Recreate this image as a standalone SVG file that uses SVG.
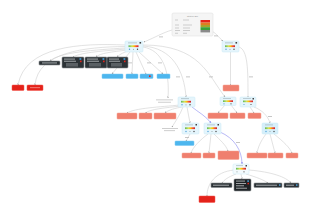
<svg xmlns="http://www.w3.org/2000/svg" width="320" height="208" viewBox="0 0 320 208">
<defs>
<linearGradient id="bar" x1="0" x2="1" y1="0" y2="0">
<stop offset="0" stop-color="#5cb85c"/><stop offset="0.35" stop-color="#d4e157"/><stop offset="0.55" stop-color="#ffc107"/><stop offset="0.8" stop-color="#f44336"/><stop offset="1" stop-color="#c62828"/>
</linearGradient>
<marker id="ah" viewBox="0 0 6 6" refX="5" refY="3" markerWidth="3" markerHeight="3" orient="auto"><path d="M0,0 L6,3 L0,6 z" fill="#9a9a9a"/></marker>
<marker id="ahb" viewBox="0 0 6 6" refX="5" refY="3" markerWidth="3" markerHeight="3" orient="auto"><path d="M0,0 L6,3 L0,6 z" fill="#8c8cf0"/></marker>
</defs>
<style>
.e{fill:none;stroke:#cfcfcf;stroke-width:0.6;marker-end:url(#ah)}
.eb{fill:none;stroke:#9a9af2;stroke-width:0.7;marker-end:url(#ahb)}
.lb{fill:#b8b8b8}
.n{fill:#e5f5fc;stroke:#cbe9f6;stroke-width:0.5}
.t{fill:#a9bcc4}
.ic{fill:#4a9fd8}
.ig{fill:#9aa}
.id{fill:#444}
.dk{fill:#2c3236;stroke:#8a8f92;stroke-width:0.6}
.dt{fill:#d8dcde}
.bp{fill:#4db6ee;stroke:#79c9f3;stroke-width:0.5}
.rd{fill:#e4221a;stroke:#f2564c;stroke-width:0.5}
.sa{fill:#ef7f6e;stroke:#f5a393;stroke-width:0.5}
.nt{fill:#c2c2c2}
.lg{fill:#f5f5f5;stroke:#dddddd;stroke-width:0.5}
.lt{font-family:'Liberation Sans',Arial,sans-serif;font-size:2.4px;fill:#9a9a9a}
</style>
<rect width="320" height="208" fill="#ffffff"/>

<g id="connectors">
<path class="e" d="M172,30 C162,33 156,37 144,42"/>
<path class="e" d="M212,31 C217,34 219,38 223,41"/>
<path class="e" d="M125,45 C80,43 25,46 18,85"/>
<path class="e" d="M125,46.5 C85,47 38,52 35,85"/>
<path class="e" d="M125,48 C95,50 60,52 50,61"/>
<path class="e" d="M126,49 C105,51 82,52 73,57"/>
<path class="e" d="M127,50 C112,52 100,53 96,57"/>
<path class="e" d="M128,51 C122,53 119,55 117,57"/>
<path class="e" d="M130,52 L112,74"/>
<path class="e" d="M133,52 L132,74"/>
<path class="e" d="M136,52 L146,74"/>
<path class="e" d="M139,52 L163,74"/>
<path class="e" d="M143,47 C162,50 170,70 168,98"/>
<path class="e" d="M143,46 C172,48 184,70 186,97"/>
<path class="e" d="M143,45 C200,45 208,75 225,97"/>
<path class="e" d="M230.5,52 L230.5,85"/>
<path class="e" d="M239,47 C248,50 248,70 248,97"/>
<path class="e" d="M180,105 C160,107 135,108 127,113"/>
<path class="e" d="M181,106 C165,108 150,109 145.5,113"/>
<path class="e" d="M182,107 C176,108 168,110 165,113"/>
<path class="e" d="M183,107 C180,115 175,122 172,127"/>
<path class="e" d="M187,107 L190,123"/>
<path class="eb" d="M192,107 C198,112 206,116 211,123"/>
<path class="e" d="M190,134 L186,141"/>
<path class="e" d="M208,134 C200,140 193,147 191,153"/>
<path class="e" d="M211,134 L209,153"/>
<path class="e" d="M214,134 C220,140 226,145 228,151"/>
<path class="eb" d="M220,132 C234,138 242,150 242,164"/>
<path class="e" d="M225,105 L218,113"/>
<path class="e" d="M231,105 L237,113"/>
<path class="e" d="M250,107 L254,113"/>
<path class="e" d="M254,107 C262,110 268,116 270,123"/>
<path class="e" d="M266,134 C260,142 258,148 257,153"/>
<path class="e" d="M270,134 L275,153"/>
<path class="e" d="M274,134 C284,142 290,148 292,153"/>
<path class="e" d="M234,170 C215,172 207,184 207,196"/>
<path class="e" d="M236,174 C228,177 224,180 222,183"/>
<path class="e" d="M241,174 L242,179"/>
<path class="e" d="M246,174 C256,177 264,180 268,183"/>
<path class="e" d="M249,170 C272,172 286,177 291,183"/>
<rect class="lb" x="159" y="36.5" width="4" height="0.8"/>
<rect class="lb" x="214" y="35.5" width="4" height="0.8"/>
<rect class="lb" x="128" y="62.5" width="4" height="0.8"/>
<rect class="lb" x="147" y="62.5" width="4" height="0.8"/>
<rect class="lb" x="158" y="62.5" width="4" height="0.8"/>
<rect class="lb" x="176" y="76.5" width="4" height="0.8"/>
<rect class="lb" x="186" y="76.5" width="4" height="0.8"/>
<rect class="lb" x="209" y="76.5" width="4" height="0.8"/>
<rect class="lb" x="249" y="76.5" width="4" height="0.8"/>
<rect class="lb" x="268" y="116" width="4" height="0.8"/>
<rect class="lb" x="185" y="137" width="4" height="0.8"/>
<rect class="lb" x="236" y="142" width="4" height="0.8"/>
</g>

<g id="legend">
<rect class="lg" x="172" y="13" width="41" height="23" rx="1.5"/>
<text class="lt" x="187" y="17">Status Bar</text>
<rect class="nt" x="175" y="19.6" width="3" height="0.8"/>
<rect class="nt" x="183" y="19.6" width="6" height="0.8"/>
<rect class="nt" x="175" y="24.6" width="4" height="0.8"/>
<rect class="nt" x="183" y="24.6" width="9" height="0.8"/>
<rect class="nt" x="175" y="27.6" width="4" height="0.8"/>
<rect class="nt" x="183" y="27.6" width="7" height="0.8"/>
<rect class="nt" x="175" y="30.2" width="5" height="0.8"/>
<rect class="nt" x="183" y="30.2" width="7" height="0.8"/>
<rect class="nt" x="175" y="32.8" width="3" height="0.8"/>
<rect class="nt" x="183" y="32.8" width="4" height="0.8"/>
<rect x="200.5" y="20" width="9.5" height="2.6" fill="#e4221a"/>
<rect x="200.5" y="22.6" width="9.5" height="2.4" fill="#e07b22"/>
<rect x="200.5" y="25" width="9.5" height="2.2" fill="#a8a22a"/>
<rect x="200.5" y="27.2" width="9.5" height="2.8" fill="#3a9f3a"/>
<rect x="200.5" y="30" width="9.5" height="2.4" fill="#8a8a8a"/>
</g>

<g id="nodeA">
<rect class="n" x="125" y="41" width="18" height="11" rx="1"/>
<rect class="t" x="128" y="42.5" width="9" height="0.8"/>
<rect class="id" x="139.5" y="42" width="1.6" height="1.6"/>
<rect x="128.5" y="45.3" width="10" height="1.8" fill="url(#bar)"/>
<circle class="ic" cx="129.5" cy="49.3" r="0.7"/>
<circle class="ig" cx="133.5" cy="49.3" r="0.6"/>
<circle class="id" cx="137.5" cy="49.3" r="0.7"/>
</g>
<g id="nodeB">
<rect class="n" x="222" y="41" width="17" height="11" rx="1"/>
<rect class="t" x="225" y="42.5" width="8" height="0.8"/>
<rect class="id" x="235.5" y="42" width="1.6" height="1.6"/>
<rect x="225" y="45.3" width="10" height="1.8" fill="url(#bar)"/>
<circle class="ic" cx="226" cy="49.3" r="0.7"/>
<circle class="ig" cx="230" cy="49.3" r="0.6"/>
<circle class="id" cx="234" cy="49.3" r="0.7"/>
</g>

<g id="red1"><rect class="rd" x="12" y="85" width="12" height="5.5" rx="0.8"/></g>
<g id="red2"><rect class="rd" x="27" y="85" width="16" height="5.5" rx="0.8"/><rect x="30" y="87.4" width="10" height="0.7" fill="#f7a39c"/></g>

<g id="darkPill1"><rect class="dk" x="39" y="61" width="21" height="4" rx="0.8"/><rect class="dt" x="42" y="62.6" width="15" height="0.7"/></g>
<g id="dark1"><rect class="dk" x="62" y="57" width="22" height="11" rx="1"/><rect class="dt" x="64" y="58.7" width="11" height="0.7"/><rect class="ic" x="79.5" y="58.2" width="1.8" height="1.6"/><rect class="dt" x="64" y="60.8" width="12" height="0.7"/><rect x="80" y="60.6" width="1.6" height="1.6" fill="#e4221a"/><rect x="66" y="63" width="12" height="3.6" fill="#5a6064"/></g>
<g id="dark2"><rect class="dk" x="85" y="57" width="22" height="11" rx="1"/><rect class="dt" x="87" y="58.7" width="11" height="0.7"/><rect class="ic" x="102.5" y="58.2" width="1.8" height="1.6"/><rect class="dt" x="87" y="60.8" width="12" height="0.7"/><rect x="103" y="60.6" width="1.6" height="1.6" fill="#e4221a"/><rect x="89" y="63" width="12" height="3.6" fill="#5a6064"/></g>
<g id="dark3"><rect class="dk" x="107" y="57" width="21" height="11" rx="1"/><rect class="dt" x="109" y="58.7" width="10" height="0.7"/><rect class="ic" x="123.5" y="58.2" width="1.8" height="1.6"/><rect class="dt" x="109" y="60.8" width="11" height="0.7"/><rect x="124" y="60.6" width="1.6" height="1.6" fill="#e4221a"/><rect x="111" y="63" width="11" height="3.6" fill="#5a6064"/></g>

<g id="blue1"><rect class="bp" x="102" y="74" width="21" height="4.5" rx="0.8"/></g>
<g id="blue2"><rect class="bp" x="126" y="74" width="12" height="4.5" rx="0.8"/></g>
<g id="blue3"><rect class="bp" x="140" y="74" width="13" height="4.5" rx="0.8"/><rect x="149" y="75.4" width="1.6" height="1.6" fill="#e4221a"/></g>
<g id="blue4"><rect class="bp" x="157" y="74" width="13" height="4.5" rx="0.8"/></g>

<g id="salmonB"><rect class="sa" x="223" y="85" width="16" height="6" rx="0.8"/></g>

<g id="note1"><rect class="nt" x="156" y="99.5" width="17" height="0.8"/><rect class="nt" x="158" y="101.8" width="13" height="0.8"/></g>

<g id="nodeC">
<rect class="n" x="178" y="97" width="17" height="10" rx="1"/>
<rect class="t" x="181" y="98.3" width="8" height="0.8"/>
<rect x="181" y="100.8" width="10" height="1.8" fill="url(#bar)"/>
<circle class="ic" cx="182" cy="104.8" r="0.7"/>
<circle class="ig" cx="186" cy="104.8" r="0.6"/>
<circle class="id" cx="190" cy="104.8" r="0.7"/>
</g>
<g id="nodeH">
<rect class="n" x="220" y="97" width="16" height="8.5" rx="1"/>
<rect class="t" x="223" y="98.2" width="8" height="0.7"/>
<rect x="223" y="100.3" width="10" height="1.7" fill="url(#bar)"/>
<circle class="ic" cx="224" cy="103.8" r="0.6"/>
<circle class="id" cx="231" cy="103.8" r="0.6"/>
</g>
<g id="nodeI">
<rect class="n" x="240" y="97" width="16" height="10" rx="1"/>
<rect class="t" x="243" y="98.2" width="8" height="0.7"/>
<rect class="id" x="252.5" y="98" width="1.5" height="1.5"/>
<rect x="243" y="100.5" width="10" height="1.7" fill="url(#bar)"/>
<circle class="ic" cx="244" cy="104.5" r="0.6"/>
<circle class="id" cx="251" cy="104.5" r="0.6"/>
</g>

<g id="salmon1"><rect class="sa" x="117" y="113" width="20" height="6" rx="0.8"/></g>
<g id="salmon2"><rect class="sa" x="139" y="113" width="13" height="6" rx="0.8"/></g>
<g id="salmon3"><rect class="sa" x="154" y="113" width="22" height="6" rx="0.8"/></g>
<g id="salmon4"><rect class="sa" x="208" y="113" width="20" height="5.5" rx="0.8"/></g>
<g id="salmon5"><rect class="sa" x="230" y="113" width="15" height="5.5" rx="0.8"/></g>
<g id="salmon6"><rect class="sa" x="248" y="113" width="13" height="5.5" rx="0.8"/></g>

<g id="note2"><rect class="nt" x="162" y="128" width="16" height="0.8"/><rect class="nt" x="164" y="130.3" width="11" height="0.8"/></g>

<g id="nodeD">
<rect class="n" x="182" y="123" width="17" height="11" rx="1"/>
<rect class="t" x="185" y="124.5" width="8" height="0.8"/>
<rect class="id" x="195.5" y="124" width="1.5" height="1.5"/>
<rect x="185" y="127.3" width="10" height="1.8" fill="url(#bar)"/>
<circle class="ic" cx="186" cy="131.5" r="0.7"/>
<circle class="ig" cx="190" cy="131.5" r="0.6"/>
<circle class="id" cx="194" cy="131.5" r="0.7"/>
</g>
<g id="nodeE">
<rect class="n" x="204" y="123" width="17" height="11" rx="1"/>
<rect class="t" x="207" y="124.5" width="8" height="0.8"/>
<rect class="id" x="217.5" y="124" width="1.5" height="1.5"/>
<rect x="207" y="127.3" width="10" height="1.8" fill="url(#bar)"/>
<circle class="ic" cx="208" cy="131.5" r="0.7"/>
<circle class="ig" cx="212" cy="131.5" r="0.6"/>
<circle class="id" cx="216" cy="131.5" r="0.7"/>
</g>
<g id="nodeF">
<rect class="n" x="262" y="123" width="16" height="11" rx="1" style="fill:#d6effa"/>
<rect class="t" x="265" y="124.5" width="8" height="0.8"/>
<rect x="265" y="127.3" width="10" height="1.8" fill="url(#bar)"/>
<circle class="ic" cx="266" cy="131.5" r="0.7"/>
<circle class="ig" cx="270" cy="131.5" r="0.6"/>
<circle class="id" cx="274" cy="131.5" r="0.7"/>
</g>

<g id="blue5"><rect class="bp" x="175" y="141" width="19" height="4.5" rx="0.8"/></g>

<g id="salmon7"><rect class="sa" x="182" y="153" width="19" height="5" rx="0.8"/></g>
<g id="salmon8"><rect class="sa" x="203" y="153" width="12" height="5" rx="0.8"/></g>
<g id="salmon9"><rect class="sa" x="218" y="151" width="21" height="8.5" rx="0.8"/></g>
<g id="salmon10"><rect class="sa" x="247" y="153" width="20" height="5" rx="0.8"/></g>
<g id="salmon11"><rect class="sa" x="268" y="153" width="15" height="5" rx="0.8"/></g>
<g id="salmon12"><rect class="sa" x="286" y="153" width="12" height="5" rx="0.8"/></g>

<g id="nodeG">
<rect class="n" x="233" y="164" width="16" height="10" rx="1" style="fill:#f3fafd"/>
<rect class="t" x="236" y="165.3" width="7" height="0.8"/>
<rect class="id" x="245.5" y="165" width="1.5" height="1.5"/>
<rect x="236" y="167.8" width="10" height="1.8" fill="url(#bar)"/>
<circle class="ig" cx="237" cy="171.8" r="0.6"/>
<circle class="id" cx="244" cy="171.8" r="0.6"/>
</g>

<g id="red3"><rect class="rd" x="199" y="196" width="16" height="6.5" rx="0.8"/></g>
<g id="darkPill2"><rect class="dk" x="211" y="183" width="21" height="4.5" rx="0.8"/><rect class="dt" x="213" y="184.8" width="16" height="0.7"/></g>
<g id="dark4"><rect class="dk" x="234" y="179" width="17" height="12" rx="1" style="fill:#1f2427"/><rect class="dt" x="236" y="180.7" width="9" height="0.7"/><rect class="ic" x="247.3" y="180.3" width="1.6" height="1.6"/><rect class="dt" x="236" y="183" width="10" height="0.7"/><rect x="247.5" y="182.8" width="1.5" height="1.5" fill="#e4221a"/><rect class="dt" x="236" y="185.5" width="8" height="0.7"/><rect class="dt" x="236" y="187.8" width="11" height="0.7"/></g>
<g id="darkPill3"><rect class="dk" x="254" y="183" width="28" height="4.5" rx="0.8"/><rect class="dt" x="256" y="184.8" width="21" height="0.7"/><rect class="ic" x="279" y="184.3" width="1.5" height="1.5"/></g>
<g id="darkPill4"><rect class="dk" x="284" y="183" width="15" height="4.5" rx="0.8"/><rect class="dt" x="286" y="184.8" width="8" height="0.7"/><rect class="ic" x="296" y="184.3" width="1.5" height="1.5"/></g>
</svg>
